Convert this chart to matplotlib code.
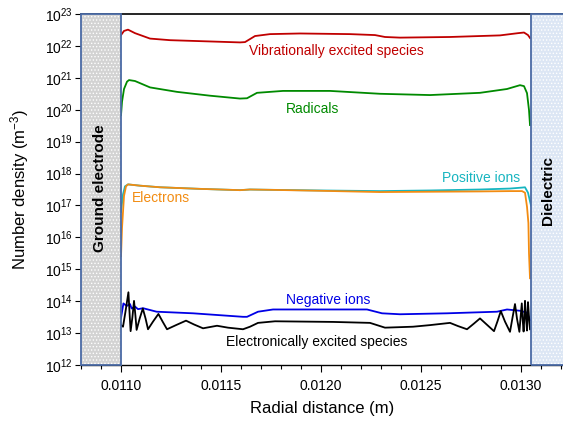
import numpy as np
import matplotlib
matplotlib.use("Agg")
import matplotlib.pyplot as plt
from matplotlib.patches import Rectangle
from matplotlib.ticker import MultipleLocator, LogLocator, NullLocator

plt.rcParams['font.family'] = ['Liberation Sans', 'DejaVu Sans']
plt.rcParams['mathtext.fontset'] = 'custom'
plt.rcParams['mathtext.rm'] = 'Liberation Sans'
plt.rcParams['mathtext.it'] = 'Liberation Sans:italic'
plt.rcParams['hatch.linewidth'] = 0.6

# radial positions (m) and log10 of number density (m^-3) for each species
vib_r = [0.011000, 0.011015, 0.011035, 0.011070, 0.011145, 0.011245, 0.011395,
         0.011595, 0.011620, 0.011670, 0.011745, 0.011895, 0.012145, 0.012270,
         0.012320, 0.012395, 0.012645, 0.012895, 0.012985, 0.013015, 0.013035, 0.013045]
vib_log = [22.34, 22.47, 22.51, 22.40, 22.23, 22.18, 22.15, 22.11, 22.12, 22.31, 22.37,
           22.39, 22.37, 22.34, 22.28, 22.26, 22.28, 22.33, 22.40, 22.42, 22.34, 22.25]

rad_r = [0.011000, 0.011005, 0.011015, 0.011030, 0.011040, 0.011070, 0.011145,
         0.011280, 0.011445, 0.011595, 0.011630, 0.011680, 0.011810, 0.012045,
         0.012295, 0.012545, 0.012795, 0.012930, 0.012995, 0.013015, 0.013030,
         0.013040, 0.013045]
rad_log = [19.83, 20.25, 20.65, 20.88, 20.93, 20.90, 20.70, 20.56, 20.44, 20.35, 20.36,
           20.53, 20.59, 20.59, 20.50, 20.46, 20.53, 20.65, 20.77, 20.74, 20.52, 19.99, 19.52]

pos_r = [0.011000, 0.011010, 0.011020, 0.011035, 0.011095, 0.011195, 0.011395,
         0.011595, 0.011645, 0.011745, 0.011995, 0.012295, 0.012545, 0.012795,
         0.012945, 0.013005, 0.013020, 0.013035, 0.013050]
pos_log = [16.80, 17.35, 17.60, 17.66, 17.62, 17.57, 17.52, 17.48, 17.50, 17.49, 17.47,
           17.45, 17.47, 17.50, 17.53, 17.56, 17.57, 17.40, 17.00]

ele_r = [0.011000, 0.011005, 0.011015, 0.011025, 0.011035, 0.011095, 0.011195,
         0.011395, 0.011595, 0.011645, 0.011745, 0.011995, 0.012295, 0.012545,
         0.012795, 0.012945, 0.013005, 0.013020, 0.013030, 0.013037, 0.013040,
         0.013045]
ele_log = [15.41, 16.30, 17.30, 17.60, 17.66, 17.62, 17.57, 17.52, 17.48, 17.50, 17.49,
           17.46, 17.42, 17.43, 17.44, 17.45, 17.45, 17.40, 16.96, 16.45, 15.50, 14.72]

neg_r = [0.011000, 0.011012, 0.011028, 0.011045, 0.011053, 0.011070, 0.011085,
         0.011110, 0.011178, 0.011360, 0.011610, 0.011630, 0.011685, 0.011760,
         0.012230, 0.012305, 0.012395, 0.012630, 0.012880, 0.012930, 0.012995,
         0.013030, 0.013045]
neg_log = [13.48, 13.93, 13.85, 13.91, 13.77, 13.83, 13.75, 13.78, 13.67, 13.62, 13.51,
           13.51, 13.67, 13.74, 13.74, 13.62, 13.59, 13.62, 13.67, 13.74, 13.70, 13.64, 13.41]

exc_r = [0.011000, 0.011010, 0.011023, 0.011037, 0.011043, 0.011048, 0.011057,
         0.011065, 0.011072, 0.011078, 0.011093, 0.011109, 0.011123, 0.011135,
         0.011160, 0.011187, 0.011208, 0.011230, 0.011275, 0.011325, 0.011365,
         0.011410, 0.011480, 0.011535, 0.011610, 0.011645, 0.011685, 0.011770,
         0.012060, 0.012245, 0.012320, 0.012460, 0.012545, 0.012645, 0.012685,
         0.012730, 0.012765, 0.012795, 0.012830, 0.012865, 0.012883, 0.012899,
         0.012920, 0.012945, 0.012958, 0.012970, 0.012980, 0.012992, 0.012998,
         0.013004, 0.013008, 0.013013, 0.013017, 0.013020, 0.013025, 0.013030,
         0.013033, 0.013035, 0.013040, 0.013045]
exc_log = [13.25, 13.20, 13.70, 14.28, 13.60, 13.06, 13.50, 14.01, 13.55, 13.10, 13.45,
           13.77, 13.45, 13.12, 13.36, 13.60, 13.36, 13.12, 13.25, 13.39, 13.27, 13.15,
           13.23, 13.17, 13.12, 13.20, 13.32, 13.37, 13.35, 13.32, 13.17, 13.20, 13.25,
           13.32, 13.22, 13.12, 13.30, 13.46, 13.26, 13.06, 13.38, 13.69, 13.36, 13.04,
           13.50, 13.91, 13.45, 13.04, 13.50, 13.93, 13.45, 13.05, 13.50, 14.01, 13.50,
           13.08, 13.55, 13.97, 13.50, 13.12]

# species: (r, log n, colour, label, label r, label log n, alignment)
species = [
    (vib_r, vib_log, '#C00000', 'Vibrationally excited species', 0.012075, 21.84, 'center'),
    (rad_r, rad_log, '#008A00', 'Radicals', 0.011960, 20.02, 'center'),
    (pos_r, pos_log, '#17B5C0', 'Positive ions', 0.012800, 17.86, 'center'),
    (ele_r, ele_log, '#F28C12', 'Electrons', 0.011055, 17.23, 'left'),
    (neg_r, neg_log, '#0000E6', 'Negative ions', 0.012035, 14.03, 'center'),
    (exc_r, exc_log, '#000000', 'Electronically excited species', 0.011980, 12.72, 'center'),
]

r_min, r_max = 0.0108, 0.01321
electrode_edge = 0.0110
dielectric_edge = 0.01305

fig = plt.figure(figsize=(5.63, 4.26), dpi=100)
ax = fig.add_axes([0.1439, 0.1432, 0.8561, 0.8239])

for r, logn, col, name, tx, ty, ha in species:
    ax.plot(r, 10 ** np.array(logn), color=col, lw=1.3, solid_joinstyle='round')
    ax.text(tx, 10 ** ty, name, color=col, fontsize=10, ha=ha, va='center')

ax.set_yscale('log')
ax.set_xlim(r_min, r_max)
ax.set_ylim(1e12, 1e23)

# ground electrode and dielectric blocks
for x0, x1, face in [(r_min, electrode_edge, '#D3D3D3'),
                     (dielectric_edge, 0.0134, '#DCE6F4')]:
    ax.add_patch(Rectangle((x0, 1e12), x1 - x0, 1e23 - 1e12, facecolor=face,
                           edgecolor='none', zorder=3, clip_on=False))
    ax.add_patch(Rectangle((x0, 1e12), x1 - x0, 1e23 - 1e12, facecolor='none',
                           edgecolor='white', hatch='.....', lw=0, zorder=3.1, clip_on=False))
    ax.add_patch(Rectangle((x0, 1e12), x1 - x0, 1e23 - 1e12, facecolor='none',
                           edgecolor='#4A6AA5', lw=1.3, zorder=3.2, clip_on=False))

ax.text(0.010895, 10 ** 17.55, 'Ground electrode', rotation=90, fontsize=11,
        fontweight='bold', ha='center', va='center', zorder=4)
ax.text(0.013135, 10 ** 17.48, 'Dielectric', rotation=90, fontsize=11,
        fontweight='bold', ha='center', va='center', zorder=4)

ax.xaxis.set_major_locator(MultipleLocator(0.0005))
ax.xaxis.set_minor_locator(MultipleLocator(0.0001))
ax.xaxis.set_major_formatter(plt.FormatStrFormatter('%.4f'))
ax.yaxis.set_major_locator(LogLocator(base=10, numticks=20))
ax.yaxis.set_minor_locator(NullLocator())

ax.tick_params(axis='x', which='major', direction='out', length=5, width=0.8,
               labelsize=10, pad=5)
ax.tick_params(axis='x', which='minor', direction='out', length=3, width=0.8)
ax.tick_params(axis='y', which='major', direction='out', length=4, width=0.8,
               labelsize=10, pad=2)

for side in ['right', 'left']:
    ax.spines[side].set_visible(False)
ax.spines['top'].set_linewidth(1.2)
ax.spines['bottom'].set_linewidth(1.0)

ax.set_xlabel('Radial distance (m)', fontsize=12, labelpad=6)
ax.set_ylabel('Number density (m$^{-3}$)', fontsize=12, labelpad=10)

fig.savefig('out.png', dpi=100)
